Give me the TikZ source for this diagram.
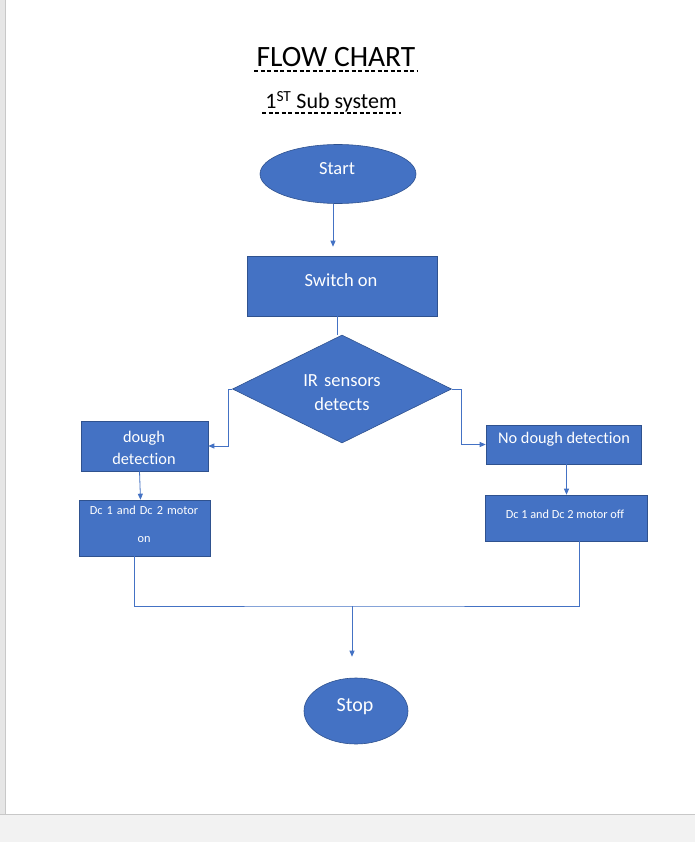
\documentclass[tikz,border=0pt]{standalone}
\usepackage{fontspec}
\setmainfont{Carlito}[Ligatures=NoCommon]
\usetikzlibrary{shapes.geometric,arrows.meta}
\definecolor{boxfill}{HTML}{4472C4}
\definecolor{boxline}{HTML}{2F528F}
\definecolor{linkc}{HTML}{4472C4}
\definecolor{pagegray}{HTML}{F2F2F2}
\definecolor{edgegray}{HTML}{C8C8C8}
\definecolor{stripgray}{HTML}{E6E6E6}
\tikzset{
  shapebase/.style={fill=boxfill, draw=boxline, line width=0.6pt, inner sep=0pt},
  stepbox/.style={shapebase, rectangle},
  roundbox/.style={shapebase, ellipse},
  decisionbox/.style={shapebase, diamond},
  txt/.style={text=white, font=\fontsize{18.5}{22}\selectfont, align=center, inner sep=0pt},
  smalltxt/.style={text=white, font=\fontsize{12.3}{15}\selectfont, align=center, inner sep=0pt},
  link/.style={draw=linkc, line width=0.8pt},
  arr/.style={link, -{Triangle[width=5pt,length=6pt]}},
  uline/.style={line width=1.3pt, dash pattern=on 4.2pt off 2.3pt}
}
\begin{document}
\begin{tikzpicture}[x=1pt,y=-1pt]
\useasboundingbox (0,0) rectangle (695,842);
% page frame
\fill[white] (0,0) rectangle (695,842);
\fill[stripgray] (0,0) rectangle (5,814);
\draw[edgegray, line width=0.8pt] (5,0) -- (5,814);
\fill[pagegray] (0,814) rectangle (695,842);
\draw[edgegray, line width=0.8pt] (0,814) -- (695,814);

% titles
\node[font=\fontsize{29.5}{34}\selectfont, inner sep=0pt, anchor=base] (title) at (336,67) {FLOW CHART};
\draw[uline] (254,71) -- (418,71);
\node[font=\fontsize{22}{26}\selectfont, inner sep=0pt, anchor=base] (sub) at (331,109) {1\textsuperscript{ST} Sub system};
\draw[uline] (262,113) -- (401,113);

% shapes
\node[roundbox, minimum width=156pt, minimum height=59pt] (start) at (338,174) {};
\node[txt] at (337,169) {Start};

\node[stepbox, minimum width=190pt, minimum height=60pt] (sw) at (342,286) {};
\node[txt] at (341,280) {Switch on};

\node[decisionbox, minimum width=219pt, minimum height=108pt] (ir) at (342,389) {};
\node[txt, text width=120pt] at (342,393) {IR sensors\\[2pt]detects};

\node[stepbox, minimum width=127pt, minimum height=50pt] (dough) at (144.5,446) {};
\node[txt, font=\fontsize{16.3}{22}\selectfont] at (144,448) {dough\\detection};

\node[stepbox, minimum width=155pt, minimum height=39pt] (nodough) at (563.5,444.5) {};
\node[txt, font=\fontsize{16.3}{20}\selectfont] at (564,439) {No dough detection};

\node[stepbox, minimum width=131pt, minimum height=56pt] (mon) at (144.5,528) {};
\node[smalltxt, text width=131pt] at (144,524.5) {Dc 1 and Dc 2 motor\\[13pt]on};

\node[stepbox, minimum width=162pt, minimum height=46pt] (moff) at (566,518) {};
\node[smalltxt] at (565,514) {Dc 1 and Dc 2 motor off};

\node[roundbox, minimum width=104pt, minimum height=66pt] (stop) at (356,711) {};
\node[txt, font=\fontsize{20}{24}\selectfont] at (355,707) {Stop};

% connectors
\draw[arr, shorten >=9pt] ([xshift=-5pt]start.south) -- ([xshift=-5pt]start.south |- sw.north);
\draw[link] ([xshift=-5pt]sw.south) -- ([xshift=-5pt]sw.south |- ir.north);
\draw[arr] (ir.west) -- ++(-4,0) |- (dough.east);
\draw[arr] (ir.east) -- ++(10,0) |- (nodough.west);
\draw[arr] ([xshift=-5pt]dough.south) -- ([xshift=-4pt]mon.north);
\draw[arr] ([xshift=3pt]nodough.south) -- ([xshift=3pt]nodough.south |- moff.north);
\coordinate (join) at (352,606);
\draw[link] ([xshift=-10pt]mon.south) |- (join) -| ([xshift=13pt]moff.south);
\draw[arr, shorten >=21pt] (join) -- (join |- stop.north);
\end{tikzpicture}
\end{document}
